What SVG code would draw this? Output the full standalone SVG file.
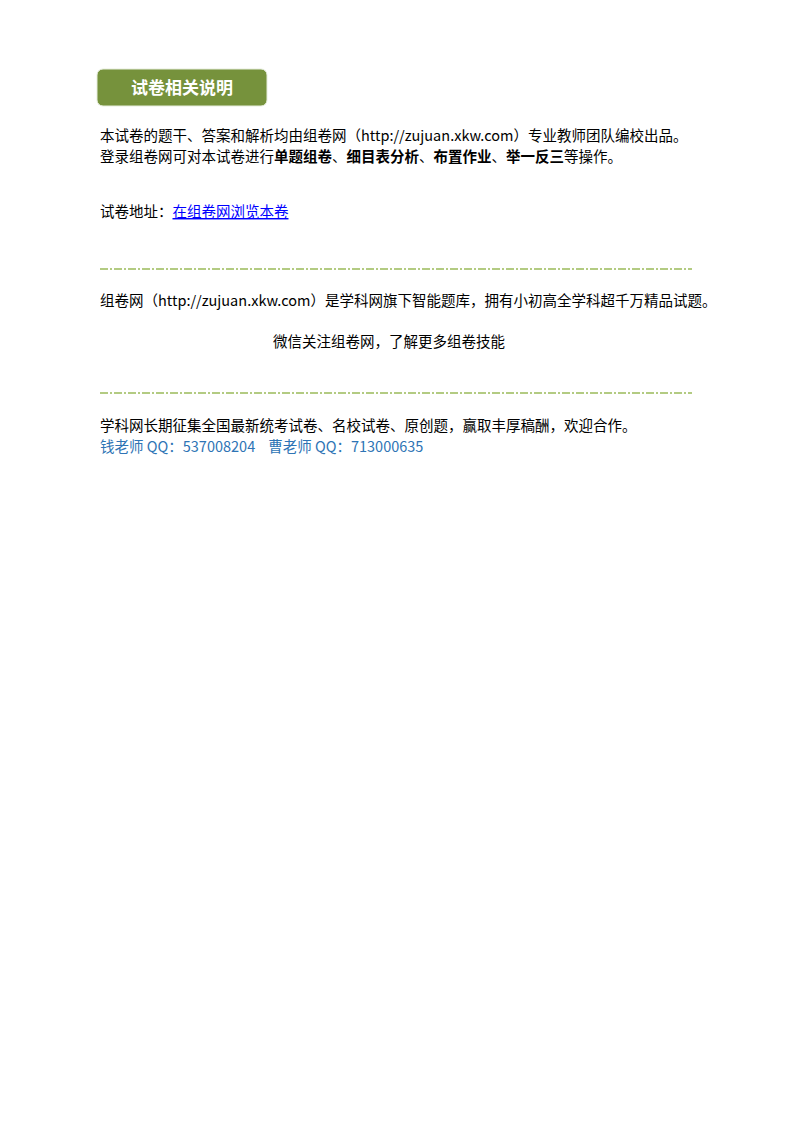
<svg xmlns="http://www.w3.org/2000/svg" width="800" height="1132" viewBox="0 0 800 1132">
<style>
.t{font-family:"Noto Sans CJK SC","Noto Sans",sans-serif;font-size:14.5px;fill:#000}
.b{font-weight:bold}
.blue{fill:#2e74b5}
.sep{stroke:#9bbb59;stroke-width:1.3;stroke-dasharray:8 2 2 2;fill:none}
</style>
<rect width="800" height="1132" fill="#fff"/>
<g id="header">
<rect x="97" y="69" width="170" height="37" rx="6" fill="#76923c" stroke="#e6eddc" stroke-width="1"/>
<text x="182" y="94" text-anchor="middle" font-family="Noto Sans CJK SC,sans-serif" font-size="17" font-weight="bold" fill="#fff">试卷相关说明</text>
</g>
<text class="t" x="100" y="141">本试卷的题干、答案和解析均由组卷网（http://zujuan.xkw.com）专业教师团队编校出品。</text>
<text class="t" x="100" y="162">登录组卷网可对本试卷进行<tspan class="b">单题组卷</tspan>、<tspan class="b">细目表分析</tspan>、<tspan class="b">布置作业</tspan>、<tspan class="b">举一反三</tspan>等操作。</text>
<text class="t" x="100" y="217">试卷地址：<tspan fill="#0000ff" text-decoration="underline">在组卷网浏览本卷</tspan></text>
<line class="sep" x1="100" y1="269" x2="692" y2="269"/>
<text class="t" x="100" y="306">组卷网（http://zujuan.xkw.com）是学科网旗下智能题库，拥有小初高全学科超千万精品试题。</text>
<text class="t" x="389" y="347" text-anchor="middle">微信关注组卷网，了解更多组卷技能</text>
<line class="sep" x1="100" y1="393" x2="692" y2="393"/>
<text class="t" x="100" y="431">学科网长期征集全国最新统考试卷、名校试卷、原创题，赢取丰厚稿酬，欢迎合作。</text>
<text class="t blue" x="100" y="452" xml:space="preserve">钱老师 QQ：537008204    曹老师 QQ：713000635</text>
</svg>
